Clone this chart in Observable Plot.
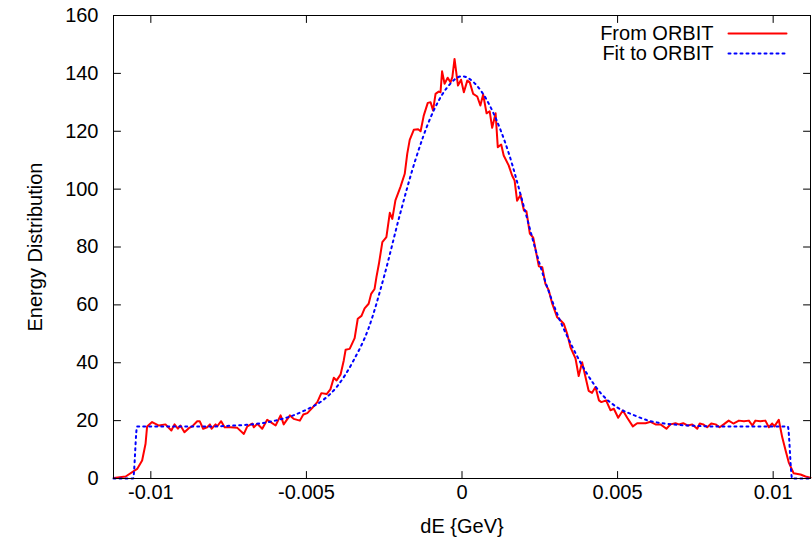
<!DOCTYPE html>
<html>
<head>
<meta charset="utf-8">
<script src="https://cdn.jsdelivr.net/npm/d3@7"></script>
<script src="https://cdn.jsdelivr.net/npm/@observablehq/plot@0.6"></script>
<style>
  html, body { margin: 0; padding: 0; background: #fff; }
  #chart { width: 812px; height: 540px; }
</style>
</head>
<body>
<div id="chart"></div>
<script>
// ---- tick definitions ----
const xTicks = [-0.01, -0.005, 0, 0.005, 0.01];
const xTickLabels = ["-0.01", "-0.005", "0", "0.005", "0.01"];
const yTicks = [0, 20, 40, 60, 80, 100, 120, 140, 160];
const xLabel = "dE {GeV}";
const yLabel = "Energy Distribution";
const seriesNames = ["From ORBIT", "Fit to ORBIT"];

// ---- "From ORBIT" series (dE in GeV, value) ----
const orbitDE = [
  -0.01119, -0.01081, -0.01044, -0.01028, -0.01017, -0.01012, -0.00996, -0.00974, -0.00953, -0.00934,
  -0.00924, -0.00913, -0.00905, -0.00892, -0.00878, -0.00867, -0.00851, -0.00843, -0.00832, -0.00819,
  -0.0081, -0.00805, -0.00792, -0.00787, -0.00774, -0.00763, -0.00744, -0.00722, -0.00701, -0.0069,
  -0.00674, -0.00669, -0.00658, -0.00642, -0.00626, -0.00615, -0.00599, -0.00583, -0.00573, -0.00553,
  -0.00541, -0.00521, -0.0051, -0.00497, -0.00481, -0.00465, -0.00452, -0.00435, -0.00423, -0.00412,
  -0.00403, -0.0039, -0.0038, -0.00374, -0.00361, -0.00345, -0.00335, -0.00323, -0.00313, -0.003,
  -0.00292, -0.00281, -0.00275, -0.00267, -0.00256, -0.00243, -0.00232, -0.00224, -0.00214, -0.00198,
  -0.00184, -0.00176, -0.00168, -0.00155, -0.00141, -0.00133, -0.00123, -0.0011, -0.00101, -0.00093,
  -0.00085, -0.00075, -0.00069, -0.00064, -0.00056, -0.00046, -0.00037, -0.00031, -0.00024, -0.00013,
  -0.00003, 0.00006, 0.00017, 0.00025, 0.00036, 0.00049, 0.00059, 0.00068, 0.00079, 0.00089,
  0.00097, 0.00108, 0.00115, 0.00126, 0.00134, 0.0015, 0.00161, 0.00169, 0.00177, 0.00188,
  0.00199, 0.00207, 0.00218, 0.00229, 0.00247, 0.00258, 0.00268, 0.00279, 0.0029, 0.00306,
  0.00317, 0.00327, 0.00338, 0.00349, 0.00365, 0.00375, 0.00386, 0.00407, 0.00418, 0.00429,
  0.0044, 0.00448, 0.00463, 0.00477, 0.00488, 0.00502, 0.00517, 0.00531, 0.00549, 0.00563,
  0.0059, 0.00606, 0.00622, 0.00638, 0.00657, 0.0067, 0.00686, 0.00697, 0.00711, 0.00726,
  0.0074, 0.00756, 0.00764, 0.00775, 0.00788, 0.00801, 0.00815, 0.00828, 0.00841, 0.00857,
  0.00872, 0.0089, 0.00906, 0.00922, 0.00933, 0.00943, 0.00959, 0.00975, 0.00986, 0.00997,
  0.01004, 0.01018, 0.01029, 0.0104, 0.0105, 0.01066, 0.01088, 0.01104, 0.0112
];
const orbitVal = [
  0.2, 0.7, 3.3, 6.2, 12, 18, 19.5, 18.3, 18.7, 16.6,
  18.7, 17.2, 18.3, 16, 17.4, 18, 19.8, 19.8, 17.2, 17.7,
  18.7, 17.2, 18.7, 18, 19.8, 17.7, 17.7, 17.5, 15.4, 18,
  19, 17.7, 18.9, 17.2, 20.3, 19.5, 18.3, 21.8, 18.7, 21.8,
  20.6, 20, 22.1, 22.6, 24.4, 26.4, 29.5, 29.2, 30.8, 34.8,
  33.9, 36, 40.8, 44.5, 44.8, 48.5, 55.2, 56.2, 58.8, 60.4,
  63.8, 65.5, 69.6, 74.2, 81.7, 83.4, 91.8, 89.7, 96.1, 100.7,
  105.3, 112.2, 117, 120.5, 120.7, 120, 125.4, 129.8, 130, 127.2,
  132.9, 133.7, 133.5, 140.7, 136.4, 138.5, 136.9, 138.7, 145, 135.8,
  137.8, 133.5, 137.5, 136.9, 132.9, 132, 128.9, 132.7, 126.2, 126.9,
  121.2, 126.2, 114.5, 115.4, 111.6, 108.2, 104.7, 103, 96, 98,
  92.6, 92.4, 84.6, 83.2, 73.3, 73, 67.3, 65, 60.4, 55.7,
  54.6, 53.5, 50, 45.2, 41.4, 35.4, 40.2, 30.3, 29.6, 31.6,
  27, 26.4, 27, 23.6, 24.1, 21, 23.5, 21, 18, 19.1,
  19.1, 19.6, 18.7, 18.7, 17.2, 18.7, 19.1, 18.7, 19.1, 18.3,
  18.7, 17.2, 19, 18.7, 17.7, 19, 18.7, 17.7, 18.7, 20,
  19, 20, 19.8, 20, 18.3, 20, 19.8, 20, 17.7, 19,
  18, 20.3, 14.3, 9.7, 5.6, 1.8, 1.4, 0.7, 0.3
];

// ---- "Fit to ORBIT" series (dE in GeV, value) ----
const fitDE = [
  -0.0112, -0.01057, -0.01044, -0.0095, -0.009, -0.0085, -0.008, -0.0075, -0.007, -0.0065,
  -0.006, -0.0055, -0.005, -0.0045, -0.004, -0.0035, -0.003, -0.0025, -0.002, -0.0015,
  -0.001, -0.0005, 0, 0.0005, 0.001, 0.0015, 0.002, 0.0025, 0.003, 0.0035,
  0.004, 0.0045, 0.005, 0.0055, 0.006, 0.0065, 0.007, 0.0075, 0.008, 0.0085,
  0.009, 0.0095, 0.01047, 0.01061, 0.0112
];
const fitVal = [
  0, 0, 18, 18, 18, 18, 18, 18.2, 18.5, 19,
  20, 21.5, 23.8, 26.8, 32, 40.5, 52, 70, 91, 110,
  125, 134.8, 139, 135.5, 126.5, 112.5, 93.5, 74, 58.5, 46.5,
  36.5, 29, 24.5, 22, 20, 19, 18.5, 18.2, 18, 18,
  18, 18, 18, 0, 0
];

const orbit = orbitDE.map((x, i) => ({x, y: orbitVal[i]}));
const fit = fitDE.map((x, i) => ({x, y: fitVal[i]}));

const RED = "#ff0000";
const BLUE = "#0000ff";
const FONT = "'Liberation Sans', Arial, Helvetica, sans-serif";
const segment = {draw(context, l) { context.moveTo(0, 0); context.lineTo(0, -l); }};

const xMin = -0.0112, xMax = 0.0112, yMin = 0, yMax = 160;

const chart = Plot.plot({
  width: 812,
  height: 540,
  marginLeft: 113,
  marginRight: 2,
  marginTop: 15,
  marginBottom: 62,
  style: {fontFamily: FONT, fontSize: "20px", color: "#000", background: "#fff", overflow: "visible"},
  x: {domain: [xMin, xMax]},
  y: {domain: [yMin, yMax]},
  marks: [
    // data
    Plot.line(orbit, {x: "x", y: "y", stroke: RED, strokeWidth: 2, strokeLinejoin: "round"}),
    Plot.line(fit, {x: "x", y: "y", stroke: BLUE, strokeWidth: 2, strokeDasharray: "2,4", curve: "monotone-x"}),
    // frame
    Plot.frame({stroke: "#000", strokeWidth: 1}),
    // inward ticks on all four sides
    Plot.vector(xTicks, {x: d => d, y: yMin, length: 7, rotate: 0, anchor: "start", shape: segment, stroke: "#000", strokeWidth: 1}),
    Plot.vector(xTicks, {x: d => d, y: yMax, length: 7, rotate: 180, anchor: "start", shape: segment, stroke: "#000", strokeWidth: 1}),
    Plot.vector(yTicks, {x: xMin, y: d => d, length: 7, rotate: 90, anchor: "start", shape: segment, stroke: "#000", strokeWidth: 1}),
    Plot.vector(yTicks, {x: xMax, y: d => d, length: 7, rotate: -90, anchor: "start", shape: segment, stroke: "#000", strokeWidth: 1}),
    // tick labels
    Plot.axisX({ticks: xTicks, tickSize: 0, tickPadding: 6, tickFormat: (d, i) => xTickLabels[i], label: null, fontSize: 20}),
    Plot.axisY({ticks: yTicks, tickSize: 0, tickPadding: 15, label: null, fontSize: 20}),
    // axis titles
    Plot.text([xLabel], {text: d => d, frameAnchor: "bottom", dy: 48, lineAnchor: "middle", fontSize: 20}),
    Plot.text([yLabel], {text: d => d, frameAnchor: "left", dx: -78, rotate: -90, lineAnchor: "middle", textAnchor: "middle", fontSize: 20}),
    // legend
    Plot.text([seriesNames[0]], {text: d => d, frameAnchor: "top-right", dx: -97, dy: 18, textAnchor: "end", lineAnchor: "middle", fontSize: 20}),
    Plot.text([seriesNames[1]], {text: d => d, frameAnchor: "top-right", dx: -97, dy: 38, textAnchor: "end", lineAnchor: "middle", fontSize: 20}),
    Plot.vector([seriesNames[0]], {frameAnchor: "top-right", dx: -82, dy: 18, length: 58, rotate: 90, anchor: "start", shape: segment, stroke: RED, strokeWidth: 2}),
    Plot.vector([seriesNames[1]], {frameAnchor: "top-right", dx: -82, dy: 38, length: 58, rotate: 90, anchor: "start", shape: segment, stroke: BLUE, strokeWidth: 2, strokeDasharray: "2,4"})
  ]
});
document.getElementById("chart").appendChild(chart);
</script>
</body>
</html>
